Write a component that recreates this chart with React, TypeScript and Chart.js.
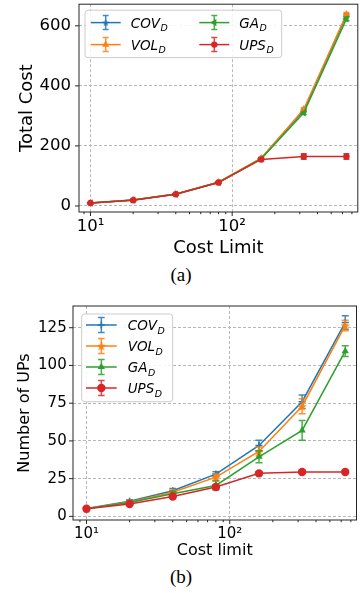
import React, { useEffect, useRef } from 'react';
import { Chart, registerables } from 'chart.js';
import { drawPoint } from 'chart.js/helpers';

Chart.register(...registerables);

const FONT = '"DejaVu Sans", sans-serif';

// ---------- data ----------
const COST_LIMITS = [10, 20, 40, 80, 160, 320, 640];

// (a) Total cost
const COV_A = [10, 20, 40, 79, 158, 318, 635];
const VOL_A = [10, 20, 40, 79, 159, 322, 638];
const GA_A = [10, 20, 39, 78, 157, 310, 623];
const UPS_A = [10, 19, 39, 78, 155, 165, 165];
const COV_A_ERR = [1, 1.5, 2, 2, 3, 4, 5];
const VOL_A_ERR = [1, 1.5, 2, 2, 3, 5, 6];
const GA_A_ERR = [1, 1.5, 2, 2, 3, 5, 6];
const UPS_A_ERR = [1, 1.5, 2, 3, 4, 9, 9];

// (b) Number of UPs
const COV_B = [5.2, 10, 17, 28, 47, 76, 128.5];
const VOL_B = [5.1, 9.6, 16, 26, 43, 73, 126.5];
const GA_B = [5.1, 9.2, 15, 20.5, 39.5, 57, 109.5];
const UPS_B = [5.1, 8.2, 13.2, 19.5, 28.5, 29.4, 29.4];
const COV_B_ERR = [0.5, 1, 1.5, 1.5, 3.5, 4.5, 4.5];
const VOL_B_ERR = [0.5, 1, 1.5, 2, 3, 5, 3.5];
const GA_B_ERR = [0.5, 1, 1.5, 3, 4, 6.5, 3.5];
const UPS_B_ERR = [0.5, 0.5, 1, 1.5, 1, 1, 1];

const SERIES_LABELS = ['COV', 'VOL', 'GA', 'UPS'];
const LABEL_SUBSCRIPT = 'D';
const Y_TICKS_A = [0, 200, 400, 600];
const Y_TICKS_B = [0, 25, 50, 75, 100, 125];
const X_MAJOR_TICKS = [10, 100];
const X_MAJOR_LABELS = ['10\u00B9', '10\u00B2'];
const X_MINOR_TICKS = [9, 20, 30, 40, 50, 60, 70, 80, 90, 200, 300, 400, 500, 600, 700];

const COLORS = ['#1f77b4', '#ff7f0e', '#2ca02c', '#d62728'];
const GRID = '#b8b8b8';
const SPINE = '#262626';

// ---------- helpers ----------
function starImage(color: string, r: number): HTMLCanvasElement {
  const size = Math.ceil(r * 2 + 2);
  const c = document.createElement('canvas');
  c.width = size;
  c.height = size;
  const g = c.getContext('2d')!;
  g.fillStyle = color;
  g.beginPath();
  const cx = size / 2, cy = size / 2 + r * 0.1, ri = r * 0.42;
  for (let k = 0; k < 10; k++) {
    const rr = k % 2 === 0 ? r : ri;
    const ang = -Math.PI / 2 + (k * Math.PI) / 5;
    const px = cx + rr * Math.cos(ang), py = cy + rr * Math.sin(ang);
    if (k === 0) g.moveTo(px, py); else g.lineTo(px, py);
  }
  g.closePath();
  g.fill();
  return c;
}

interface MarkerSpec { style: string; size: number; rotation?: number }
interface LegendSpec {
  ncol: number; dx: number; dy: number; w: number; h: number;
  row0: number; rowGap: number; padX: number; colGap: number;
  handleLen: number; textOffset: number; fontSize: number; barHalf: number; capHalf: number;
}
interface PanelSpec {
  width: number; height: number;
  values: number[][]; errors: number[][]; markers: MarkerSpec[];
  yTicks: number[]; yMin: number; yMax: number; xMin: number; xMax: number;
  yTitle: string; xTitle: string; tickSize: number; titleSize: number;
  yAxisWidth: number; xAxisHeight: number; padTop: number; padRight: number;
  yTitlePad: number; xTitlePad: number; yTickPad: number; xTickPad: number;
  capHalf: number;
  legend: LegendSpec;
}

const PANEL_A: PanelSpec = {
  width: 362, height: 262,
  values: [COV_A, VOL_A, GA_A, UPS_A],
  errors: [COV_A_ERR, VOL_A_ERR, GA_A_ERR, UPS_A_ERR],
  markers: [
    { style: 'star', size: 3.8 },
    { style: 'triangle', size: 4.2 },
    { style: 'triangle', size: 4.2, rotation: -90 },
    { style: 'circle', size: 3.2 },
  ],
  yTicks: Y_TICKS_A, yMin: -20, yMax: 672, xMin: 8.3, xMax: 770,
  yTitle: 'Total Cost', xTitle: 'Cost Limit', tickSize: 16.5, titleSize: 18,
  yAxisWidth: 79, xAxisHeight: 50, padTop: 2.3, padRight: 0.5,
  yTitlePad: 17, xTitlePad: 3, yTickPad: 8, xTickPad: 4.5,
  capHalf: 3,
  legend: {
    ncol: 2, dx: 6, dy: 6, w: 196.7, h: 47.4, row0: 12.4, rowGap: 22, padX: 5.7, colGap: 108.6,
    handleLen: 30, textOffset: 40, fontSize: 13.5, barHalf: 7, capHalf: 3,
  },
};

const PANEL_B: PanelSpec = {
  width: 362, height: 270,
  values: [COV_B, VOL_B, GA_B, UPS_B],
  errors: [COV_B_ERR, VOL_B_ERR, GA_B_ERR, UPS_B_ERR],
  markers: [
    { style: 'cross', size: 3.5 },
    { style: 'star', size: 5 },
    { style: 'triangle', size: 4.2 },
    { style: 'circle', size: 4.2 },
  ],
  yTicks: Y_TICKS_B, yMin: -2.4, yMax: 139.4, xMin: 8.05, xMax: 767,
  yTitle: 'Number of UPs', xTitle: 'Cost limit', tickSize: 15, titleSize: 16,
  yAxisWidth: 73, xAxisHeight: 45, padTop: 11, padRight: 2,
  yTitlePad: 15.4, xTitlePad: 4.4, yTickPad: 6.3, xTickPad: 5.5,
  capHalf: 3.5,
  legend: {
    ncol: 1, dx: 8.7, dy: 8, w: 91, h: 87.7, row0: 11, rowGap: 21, padX: 4.3, colGap: 0,
    handleLen: 30.7, textOffset: 41.7, fontSize: 13.5, barHalf: 7.5, capHalf: 3.3,
  },
};

// ---------- plugins ----------
const errorBarPlugin = {
  id: 'errorBars',
  beforeDatasetDraw(chart: any, args: any) {
    const ds = chart.data.datasets[args.index];
    const errs: number[] = ds.errors;
    if (!errs) return;
    const { ctx, chartArea: a } = chart;
    const xs = chart.scales.x, ys = chart.scales.y;
    ctx.save();
    ctx.beginPath();
    ctx.rect(a.left, a.top, a.right - a.left, a.bottom - a.top);
    ctx.clip();
    ctx.strokeStyle = ds.borderColor;
    ctx.globalAlpha = 0.85;
    ctx.lineWidth = 1.5;
    const cap = ds.capHalf;
    ds.data.forEach((p: any, j: number) => {
      const px = xs.getPixelForValue(p.x);
      const y1 = ys.getPixelForValue(p.y - errs[j]);
      const y2 = ys.getPixelForValue(p.y + errs[j]);
      ctx.beginPath();
      ctx.moveTo(px, y1); ctx.lineTo(px, y2);
      ctx.moveTo(px - cap, y1); ctx.lineTo(px + cap, y1);
      ctx.moveTo(px - cap, y2); ctx.lineTo(px + cap, y2);
      ctx.stroke();
    });
    ctx.restore();
  },
};

const framePlugin = {
  id: 'mplFrame',
  afterDatasetsDraw(chart: any) {
    const { ctx, chartArea: a } = chart;
    const xs = chart.scales.x, ys = chart.scales.y;
    ctx.save();
    ctx.strokeStyle = SPINE;
    ctx.lineWidth = 1;
    ctx.strokeRect(a.left, a.top, a.right - a.left, a.bottom - a.top);
    ctx.beginPath();
    ys.ticks.forEach((t: any) => {
      const py = ys.getPixelForValue(t.value);
      ctx.moveTo(a.left - 4, py); ctx.lineTo(a.left, py);
    });
    xs.ticks.forEach((t: any) => {
      const px = xs.getPixelForValue(t.value);
      if (px < a.left - 0.5 || px > a.right + 0.5) return;
      const len = X_MAJOR_TICKS.includes(t.value) ? 4 : 2.2;
      ctx.moveTo(px, a.bottom); ctx.lineTo(px, a.bottom + len);
    });
    ctx.stroke();
    ctx.restore();
  },
};

const legendPlugin = {
  id: 'mplLegend',
  afterDraw(chart: any, _args: any, opts: any) {
    if (!opts || !opts.ncol) return;
    const L = opts as LegendSpec;
    const { ctx, chartArea: a } = chart;
    const bx = a.left + L.dx, by = a.top + L.dy;
    ctx.save();
    const r = 3;
    ctx.beginPath();
    ctx.moveTo(bx + r, by);
    ctx.arcTo(bx + L.w, by, bx + L.w, by + L.h, r);
    ctx.arcTo(bx + L.w, by + L.h, bx, by + L.h, r);
    ctx.arcTo(bx, by + L.h, bx, by, r);
    ctx.arcTo(bx, by, bx + L.w, by, r);
    ctx.closePath();
    ctx.fillStyle = 'rgba(255,255,255,0.85)';
    ctx.fill();
    ctx.strokeStyle = '#cccccc';
    ctx.lineWidth = 1;
    ctx.stroke();

    const dss = chart.data.datasets;
    const nrows = Math.ceil(dss.length / L.ncol);
    dss.forEach((ds: any, i: number) => {
      const row = i % nrows, col = Math.floor(i / nrows);
      const hx = bx + L.padX + col * L.colGap;
      const cy = by + L.row0 + row * L.rowGap;
      const cx = hx + L.handleLen / 2;
      const color = ds.borderColor;
      ctx.strokeStyle = color;
      ctx.lineWidth = 1.5;
      ctx.beginPath();
      ctx.moveTo(hx, cy); ctx.lineTo(hx + L.handleLen, cy);
      ctx.stroke();
      ctx.save();
      ctx.globalAlpha = 0.85;
      ctx.beginPath();
      ctx.moveTo(cx, cy - L.barHalf); ctx.lineTo(cx, cy + L.barHalf);
      ctx.moveTo(cx - L.capHalf, cy - L.barHalf); ctx.lineTo(cx + L.capHalf, cy - L.barHalf);
      ctx.moveTo(cx - L.capHalf, cy + L.barHalf); ctx.lineTo(cx + L.capHalf, cy + L.barHalf);
      ctx.stroke();
      ctx.restore();
      if (ds.pointRadius > 0) {
        ctx.fillStyle = color;
        ctx.strokeStyle = color;
        ctx.lineWidth = ds.pointBorderWidth || 0;
        drawPoint(ctx, {
          pointStyle: ds.pointStyle,
          rotation: ds.pointRotation || 0,
          radius: ds.pointRadius,
          borderWidth: ds.pointBorderWidth || 0,
        } as any, cx, cy);
      }
      const fs = L.fontSize;
      const tx = hx + L.textOffset;
      const base = cy + fs * 0.4;
      ctx.fillStyle = '#000';
      ctx.textAlign = 'left';
      ctx.textBaseline = 'alphabetic';
      ctx.font = `italic ${fs}px ${FONT}`;
      ctx.fillText(ds.label, tx, base);
      const w = ctx.measureText(ds.label).width;
      ctx.font = `italic ${fs * 0.7}px ${FONT}`;
      ctx.fillText(LABEL_SUBSCRIPT, tx + w + 0.5, base + fs * 0.24);
    });
    ctx.restore();
  },
};

function zeroPadding(s: any) {
  s.paddingTop = 0;
  s.paddingBottom = 0;
  s.paddingLeft = 0;
  s.paddingRight = 0;
}

function buildConfig(p: PanelSpec): any {
  const allX = [...X_MINOR_TICKS, ...X_MAJOR_TICKS].sort((u, v) => u - v);
  return {
    type: 'line',
    data: {
      datasets: p.values.map((vals, i) => {
        const m = p.markers[i];
        const color = COLORS[i];
        return {
          label: SERIES_LABELS[i],
          data: COST_LIMITS.map((x, j) => ({ x, y: vals[j] })),
          errors: p.errors[i],
          capHalf: p.capHalf,
          borderColor: color,
          backgroundColor: color,
          borderWidth: 1.5,
          pointStyle: m.style === 'star' ? starImage(color, m.size) : m.style,
          pointRadius: m.style === 'none' ? 0 : m.size,
          pointRotation: m.rotation ?? 0,
          pointBorderWidth: m.style === 'cross' ? 1.5 : 0,
          pointBackgroundColor: color,
          pointBorderColor: color,
          tension: 0,
          fill: false,
          order: p.values.length - 1 - i,
        };
      }),
    },
    options: {
      animation: false,
      responsive: false,
      events: [],
      layout: { padding: { top: p.padTop, right: p.padRight, left: 0, bottom: 0 } },
      plugins: {
        legend: { display: false },
        tooltip: { enabled: false },
        mplLegend: p.legend,
      },
      scales: {
        x: {
          type: 'logarithmic',
          min: p.xMin,
          max: p.xMax,
          afterBuildTicks: (s: any) => {
            s.ticks = allX.map((v) => ({ value: v, major: false }));
          },
          afterFit: (s: any) => { s.height = p.xAxisHeight; zeroPadding(s); },
          ticks: {
            autoSkip: false,
            maxRotation: 0,
            minRotation: 0,
            padding: p.xTickPad,
            color: '#000',
            font: { family: FONT, size: p.tickSize },
            callback: (v: any) => {
              const k = X_MAJOR_TICKS.indexOf(Number(v));
              return k >= 0 ? X_MAJOR_LABELS[k] : '';
            },
          },
          grid: {
            drawTicks: false,
            lineWidth: 1,
            color: (c: any) => (c.tick && X_MAJOR_TICKS.includes(c.tick.value) ? GRID : 'rgba(0,0,0,0)'),
          },
          border: { display: false, dash: [3, 2] },
          title: {
            display: true,
            text: p.xTitle,
            color: '#000',
            font: { family: FONT, size: p.titleSize },
            padding: { top: 0, bottom: p.xTitlePad },
          },
        },
        y: {
          type: 'linear',
          min: p.yMin,
          max: p.yMax,
          afterBuildTicks: (s: any) => {
            s.ticks = p.yTicks.map((v) => ({ value: v }));
          },
          afterFit: (s: any) => { s.width = p.yAxisWidth; zeroPadding(s); },
          ticks: {
            padding: p.yTickPad,
            color: '#000',
            font: { family: FONT, size: p.tickSize },
            callback: (v: any) => String(v),
          },
          grid: { drawTicks: false, lineWidth: 1, color: GRID },
          border: { display: false, dash: [3, 2] },
          title: {
            display: true,
            text: p.yTitle,
            color: '#000',
            font: { family: FONT, size: p.titleSize },
            padding: { top: p.yTitlePad, bottom: 0 },
          },
        },
      },
    },
    plugins: [errorBarPlugin, framePlugin, legendPlugin],
  };
}

function ChartPanel({ spec }: { spec: PanelSpec }) {
  const ref = useRef<HTMLCanvasElement>(null);
  useEffect(() => {
    const chart = new Chart(ref.current as HTMLCanvasElement, buildConfig(spec));
    return () => chart.destroy();
  }, [spec]);
  return (
    <canvas
      ref={ref}
      width={spec.width}
      height={spec.height}
      style={{ display: 'block', width: spec.width, height: spec.height }}
    />
  );
}

const captionStyle: React.CSSProperties = {
  position: 'absolute',
  left: 0,
  width: 362,
  textAlign: 'center',
  fontFamily: '"Liberation Serif", "Times New Roman", serif',
  fontSize: 19,
  lineHeight: '20px',
  color: '#000',
};

export default function App() {
  return (
    <div style={{ position: 'absolute', left: 0, top: 0, width: 362, height: 593, background: '#fff', overflow: 'hidden' }}>
      <div style={{ position: 'absolute', left: 0, top: 0 }}>
        <ChartPanel spec={PANEL_A} />
      </div>
      <div style={{ ...captionStyle, top: 265 }}>(a)</div>
      <div style={{ position: 'absolute', left: 0, top: 295 }}>
        <ChartPanel spec={PANEL_B} />
      </div>
      <div style={{ ...captionStyle, top: 567 }}>(b)</div>
    </div>
  );
}
